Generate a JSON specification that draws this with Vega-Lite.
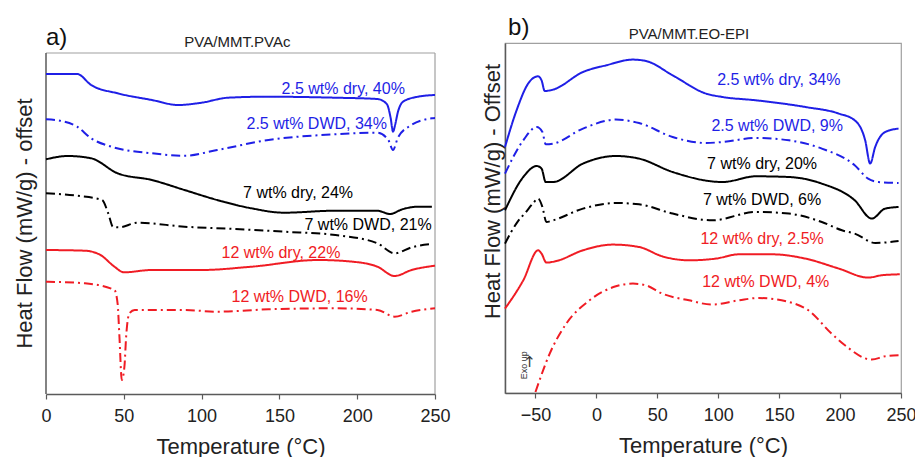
{
  "$schema": "https://vega.github.io/schema/vega-lite/v6.json",
  "padding": {"left": 13, "top": 15, "right": 0, "bottom": 0},
  "spacing": 29,
  "config": {
    "font": "Liberation Sans",
    "view": {"stroke": "#a0a0a0", "strokeWidth": 1.2},
    "axis": {"grid": false, "labelFlush": false, "domainColor": "#5a5a5a", "domainWidth": 1.5, "tickColor": "#5a5a5a", "tickWidth": 1.2, "labelFont": "Liberation Sans", "labelFontSize": 18, "labelColor": "#222222", "titleFont": "Liberation Sans", "titleFontSize": 22, "titleFontWeight": "normal", "titleColor": "#222222"}
  },
  "datasets": {
    "a": [
      {"g":"2.5","k":"dry","T":0,"hf":320},{"g":"2.5","k":"dry","T":20,"hf":320},{"g":"2.5","k":"dry","T":29,"hf":309},{"g":"2.5","k":"dry","T":46,"hf":300.7},{"g":"2.5","k":"dry","T":68,"hf":294},{"g":"2.5","k":"dry","T":85,"hf":289},{"g":"2.5","k":"dry","T":100,"hf":291.3},{"g":"2.5","k":"dry","T":117,"hf":296.3},{"g":"2.5","k":"dry","T":142,"hf":297.3},{"g":"2.5","k":"dry","T":186,"hf":296.3},{"g":"2.5","k":"dry","T":213,"hf":295},{"g":"2.5","k":"dry","T":219,"hf":290},{"g":"2.5","k":"dry","T":221.5,"hf":276},{"g":"2.5","k":"dry","T":223,"hf":262.3},{"g":"2.5","k":"dry","T":224.5,"hf":270},{"g":"2.5","k":"dry","T":226,"hf":281},{"g":"2.5","k":"dry","T":229.5,"hf":292.3},{"g":"2.5","k":"dry","T":239,"hf":297.3},{"g":"2.5","k":"dry","T":250,"hf":299},
      {"g":"2.5","k":"DWD","T":0,"hf":274.7},{"g":"2.5","k":"DWD","T":10,"hf":273},{"g":"2.5","k":"DWD","T":20,"hf":267.3},{"g":"2.5","k":"DWD","T":29,"hf":255.7},{"g":"2.5","k":"DWD","T":42,"hf":247.3},{"g":"2.5","k":"DWD","T":68,"hf":240.7},{"g":"2.5","k":"DWD","T":89,"hf":238.3},{"g":"2.5","k":"DWD","T":110,"hf":244},{"g":"2.5","k":"DWD","T":143,"hf":254},{"g":"2.5","k":"DWD","T":186,"hf":259.7},{"g":"2.5","k":"DWD","T":213,"hf":261.3},{"g":"2.5","k":"DWD","T":220,"hf":254},{"g":"2.5","k":"DWD","T":223,"hf":244},{"g":"2.5","k":"DWD","T":226,"hf":255.7},{"g":"2.5","k":"DWD","T":233,"hf":267.3},{"g":"2.5","k":"DWD","T":248,"hf":275.7},{"g":"2.5","k":"DWD","T":250,"hf":276},
      {"g":"7","k":"dry","T":0,"hf":234.7},{"g":"7","k":"dry","T":14,"hf":238},{"g":"7","k":"dry","T":29,"hf":235.7},{"g":"7","k":"dry","T":46,"hf":220.7},{"g":"7","k":"dry","T":68,"hf":214},{"g":"7","k":"dry","T":89,"hf":204},{"g":"7","k":"dry","T":110,"hf":194},{"g":"7","k":"dry","T":132,"hf":185.7},{"g":"7","k":"dry","T":153,"hf":181.3},{"g":"7","k":"dry","T":186,"hf":183.3},{"g":"7","k":"dry","T":213,"hf":183.3},{"g":"7","k":"dry","T":221,"hf":180},{"g":"7","k":"dry","T":229,"hf":184.7},{"g":"7","k":"dry","T":239,"hf":187.3},{"g":"7","k":"dry","T":248,"hf":187.3},
      {"g":"7","k":"DWD","T":0,"hf":200.7},{"g":"7","k":"DWD","T":20,"hf":198.3},{"g":"7","k":"DWD","T":36,"hf":194},{"g":"7","k":"DWD","T":40,"hf":180.7},{"g":"7","k":"DWD","T":43,"hf":167.3},{"g":"7","k":"DWD","T":47,"hf":166.7},{"g":"7","k":"DWD","T":59,"hf":171.3},{"g":"7","k":"DWD","T":89,"hf":167.3},{"g":"7","k":"DWD","T":121,"hf":165},{"g":"7","k":"DWD","T":153,"hf":162.3},{"g":"7","k":"DWD","T":186,"hf":159},{"g":"7","k":"DWD","T":213,"hf":150.7},{"g":"7","k":"DWD","T":224,"hf":140.7},{"g":"7","k":"DWD","T":235,"hf":146.7},{"g":"7","k":"DWD","T":248,"hf":150},
      {"g":"12","k":"dry","T":0,"hf":144},{"g":"12","k":"dry","T":25,"hf":143.3},{"g":"12","k":"dry","T":35,"hf":139},{"g":"12","k":"dry","T":44,"hf":127.3},{"g":"12","k":"dry","T":50,"hf":121.7},{"g":"12","k":"dry","T":68,"hf":124},{"g":"12","k":"dry","T":100,"hf":124},{"g":"12","k":"dry","T":132,"hf":127.3},{"g":"12","k":"dry","T":175,"hf":134},{"g":"12","k":"dry","T":197,"hf":132.3},{"g":"12","k":"dry","T":213,"hf":127.3},{"g":"12","k":"dry","T":224,"hf":118},{"g":"12","k":"dry","T":235,"hf":124},{"g":"12","k":"dry","T":250,"hf":128.3},
      {"g":"12","k":"DWD","T":0,"hf":112.3},{"g":"12","k":"DWD","T":25,"hf":110.7},{"g":"12","k":"DWD","T":44,"hf":104},{"g":"12","k":"DWD","T":46,"hf":90.7},{"g":"12","k":"DWD","T":47.2,"hf":57.3},{"g":"12","k":"DWD","T":48.7,"hf":14},{"g":"12","k":"DWD","T":50.4,"hf":27.3},{"g":"12","k":"DWD","T":51.5,"hf":57.3},{"g":"12","k":"DWD","T":53.6,"hf":80.7},{"g":"12","k":"DWD","T":57,"hf":84},{"g":"12","k":"DWD","T":89,"hf":84},{"g":"12","k":"DWD","T":110,"hf":82.3},{"g":"12","k":"DWD","T":143,"hf":84.7},{"g":"12","k":"DWD","T":186,"hf":85.7},{"g":"12","k":"DWD","T":213,"hf":84},{"g":"12","k":"DWD","T":224,"hf":77.3},{"g":"12","k":"DWD","T":235,"hf":82.3},{"g":"12","k":"DWD","T":250,"hf":85.7}
    ],
    "b": [
      {"g":"2.5","k":"dry","T":-75,"hf":246},{"g":"2.5","k":"dry","T":-65.5,"hf":282.7},{"g":"2.5","k":"dry","T":-56,"hf":309.4},{"g":"2.5","k":"dry","T":-48,"hf":316.7},{"g":"2.5","k":"dry","T":-45,"hf":312.7},{"g":"2.5","k":"dry","T":-42.4,"hf":302},{"g":"2.5","k":"dry","T":-35.5,"hf":303.4},{"g":"2.5","k":"dry","T":-11,"hf":321},{"g":"2.5","k":"dry","T":8,"hf":327.7},{"g":"2.5","k":"dry","T":30,"hf":333.4},{"g":"2.5","k":"dry","T":40.7,"hf":332},{"g":"2.5","k":"dry","T":62.6,"hf":317.7},{"g":"2.5","k":"dry","T":90,"hf":299.4},{"g":"2.5","k":"dry","T":103.5,"hf":296},{"g":"2.5","k":"dry","T":131,"hf":292.7},{"g":"2.5","k":"dry","T":171.5,"hf":286},{"g":"2.5","k":"dry","T":199,"hf":279.4},{"g":"2.5","k":"dry","T":212,"hf":272.7},{"g":"2.5","k":"dry","T":220.6,"hf":252.7},{"g":"2.5","k":"dry","T":224.7,"hf":229.4},{"g":"2.5","k":"dry","T":228.8,"hf":246},{"g":"2.5","k":"dry","T":237,"hf":261},{"g":"2.5","k":"dry","T":248,"hf":264.4},
      {"g":"2.5","k":"DWD","T":-75,"hf":219.4},{"g":"2.5","k":"DWD","T":-60,"hf":252.7},{"g":"2.5","k":"DWD","T":-49,"hf":266},{"g":"2.5","k":"DWD","T":-44.3,"hf":261},{"g":"2.5","k":"DWD","T":-41.6,"hf":248.7},{"g":"2.5","k":"DWD","T":-35.5,"hf":249.4},{"g":"2.5","k":"DWD","T":-11,"hf":264.4},{"g":"2.5","k":"DWD","T":16,"hf":273.4},{"g":"2.5","k":"DWD","T":35,"hf":270},{"g":"2.5","k":"DWD","T":62.6,"hf":256},{"g":"2.5","k":"DWD","T":90,"hf":250},{"g":"2.5","k":"DWD","T":103.5,"hf":251},{"g":"2.5","k":"DWD","T":131,"hf":255},{"g":"2.5","k":"DWD","T":158,"hf":252.7},{"g":"2.5","k":"DWD","T":185,"hf":244.4},{"g":"2.5","k":"DWD","T":212,"hf":227.7},{"g":"2.5","k":"DWD","T":223,"hf":214.4},{"g":"2.5","k":"DWD","T":231.5,"hf":211},{"g":"2.5","k":"DWD","T":248,"hf":210},
      {"g":"7","k":"dry","T":-75,"hf":182.7},{"g":"7","k":"dry","T":-60,"hf":216},{"g":"7","k":"dry","T":-49,"hf":227},{"g":"7","k":"dry","T":-45,"hf":224.4},{"g":"7","k":"dry","T":-41.6,"hf":211},{"g":"7","k":"dry","T":-35.5,"hf":211},{"g":"7","k":"dry","T":-11,"hf":229.4},{"g":"7","k":"dry","T":16,"hf":237},{"g":"7","k":"dry","T":35,"hf":234.4},{"g":"7","k":"dry","T":62.6,"hf":221},{"g":"7","k":"dry","T":103.5,"hf":211},{"g":"7","k":"dry","T":131,"hf":216.7},{"g":"7","k":"dry","T":158,"hf":216},{"g":"7","k":"dry","T":185,"hf":209.4},{"g":"7","k":"dry","T":212,"hf":192.7},{"g":"7","k":"dry","T":226,"hf":174.4},{"g":"7","k":"dry","T":237,"hf":184.4},{"g":"7","k":"dry","T":248,"hf":186},
      {"g":"7","k":"DWD","T":-75,"hf":149.4},{"g":"7","k":"DWD","T":-65,"hf":170.7},{"g":"7","k":"DWD","T":-58,"hf":180.7},{"g":"7","k":"DWD","T":-52,"hf":189.7},{"g":"7","k":"DWD","T":-47.8,"hf":194.4},{"g":"7","k":"DWD","T":-44.3,"hf":186},{"g":"7","k":"DWD","T":-41,"hf":171},{"g":"7","k":"DWD","T":-35.5,"hf":172.7},{"g":"7","k":"DWD","T":-11,"hf":184.4},{"g":"7","k":"DWD","T":16,"hf":190},{"g":"7","k":"DWD","T":35,"hf":188.7},{"g":"7","k":"DWD","T":62.6,"hf":179.4},{"g":"7","k":"DWD","T":95,"hf":172.7},{"g":"7","k":"DWD","T":131,"hf":181},{"g":"7","k":"DWD","T":158,"hf":179.4},{"g":"7","k":"DWD","T":185,"hf":171},{"g":"7","k":"DWD","T":201.5,"hf":162.7},{"g":"7","k":"DWD","T":212,"hf":159.4},{"g":"7","k":"DWD","T":229,"hf":150},{"g":"7","k":"DWD","T":248,"hf":152},
      {"g":"12","k":"dry","T":-75,"hf":84.4},{"g":"12","k":"dry","T":-60,"hf":112.7},{"g":"12","k":"dry","T":-47.8,"hf":142.7},{"g":"12","k":"dry","T":-45,"hf":139.4},{"g":"12","k":"dry","T":-41,"hf":130.4},{"g":"12","k":"dry","T":-32.8,"hf":132},{"g":"12","k":"dry","T":-11,"hf":142.7},{"g":"12","k":"dry","T":13.5,"hf":148.4},{"g":"12","k":"dry","T":35,"hf":146},{"g":"12","k":"dry","T":54,"hf":136.7},{"g":"12","k":"dry","T":76,"hf":132.7},{"g":"12","k":"dry","T":98,"hf":134.4},{"g":"12","k":"dry","T":117,"hf":138.7},{"g":"12","k":"dry","T":144,"hf":138.7},{"g":"12","k":"dry","T":171.5,"hf":134.4},{"g":"12","k":"dry","T":199,"hf":124.4},{"g":"12","k":"dry","T":223,"hf":115.4},{"g":"12","k":"dry","T":234,"hf":117.7},{"g":"12","k":"dry","T":249,"hf":118.7},
      {"g":"12","k":"DWD","T":-50,"hf":1},{"g":"12","k":"DWD","T":-38.3,"hf":39.4},{"g":"12","k":"DWD","T":-24.7,"hf":69.4},{"g":"12","k":"DWD","T":-5.6,"hf":92.7},{"g":"12","k":"DWD","T":16,"hf":106.7},{"g":"12","k":"DWD","T":30,"hf":109.4},{"g":"12","k":"DWD","T":40.7,"hf":107.7},{"g":"12","k":"DWD","T":54,"hf":99.4},{"g":"12","k":"DWD","T":76,"hf":92.7},{"g":"12","k":"DWD","T":95,"hf":88.4},{"g":"12","k":"DWD","T":117,"hf":92.7},{"g":"12","k":"DWD","T":133,"hf":95},{"g":"12","k":"DWD","T":158,"hf":91},{"g":"12","k":"DWD","T":174,"hf":82.7},{"g":"12","k":"DWD","T":193,"hf":59.4},{"g":"12","k":"DWD","T":204,"hf":47.7},{"g":"12","k":"DWD","T":226,"hf":33.4},{"g":"12","k":"DWD","T":237,"hf":36.7},{"g":"12","k":"DWD","T":248,"hf":37.7}
    ],
    "la": [
      {"g":"2.5","T":191,"hf":304.7,"t":"2.5 wt% dry, 40%"},
      {"g":"2.5","T":174,"hf":270,"t":"2.5 wt% DWD, 34%"},
      {"g":"7","T":162,"hf":201.3,"t":"7 wt% dry, 24%"},
      {"g":"7","T":207,"hf":169,"t":"7 wt% DWD, 21%"},
      {"g":"12","T":151,"hf":141.3,"t":"12 wt% dry, 22%"},
      {"g":"12","T":163,"hf":96.7,"t":"12 wt% DWD, 16%"}
    ],
    "lb": [
      {"g":"2.5","T":149.7,"hf":312.7,"t":"2.5 wt% dry, 34%"},
      {"g":"2.5","T":148.4,"hf":266.7,"t":"2.5 wt% DWD, 9%"},
      {"g":"7","T":136,"hf":228.7,"t":"7 wt% dry, 20%"},
      {"g":"7","T":136,"hf":193.4,"t":"7 wt% DWD, 6%"},
      {"g":"12","T":136,"hf":154.4,"t":"12 wt% dry, 2.5%"},
      {"g":"12","T":139,"hf":111,"t":"12 wt% DWD, 4%"}
    ],
    "ta": [{"T":123,"hf":352.3,"t":"PVA/MMT.PVAc"}],
    "tb": [{"T":76,"hf":359.4,"t":"PVA/MMT.EO-EPI"}],
    "pa": [{"T":0,"hf":356,"t":"a)"}],
    "pb": [{"T":-72.5,"hf":364.7,"t":"b)"}],
    "frameA": [{"T":0,"T2":250,"hf":341,"hf2":341},{"T":250,"T2":250,"hf":0,"hf2":341}],
    "leftA": [{"T":0,"T2":0,"hf":0,"hf2":341}],
    "exo": [{"T":-59.8,"hf":27.7,"t":"Exo up"}],
    "arr": [{"T":-54.9,"hf":31,"t":"↑"}]
  },
  "hconcat": [
    {
      "width": 389,
      "height": 351,
      "view": {"stroke": null},
      "layer": [
        {
          "data": {"name": "frameA"},
          "mark": {"type": "rule", "color": "#a0a0a0", "strokeWidth": 1.2},
          "encoding": {
            "x": {"field": "T", "type": "quantitative"},
            "x2": {"field": "T2"},
            "y": {"field": "hf", "type": "quantitative"},
            "y2": {"field": "hf2"}
          }
        },
        {
          "data": {"name": "leftA"},
          "mark": {"type": "rule", "color": "#5a5a5a", "strokeWidth": 1.5},
          "encoding": {
            "x": {"field": "T", "type": "quantitative"},
            "x2": {"field": "T2"},
            "y": {"field": "hf", "type": "quantitative"},
            "y2": {"field": "hf2"}
          }
        },
        {
          "data": {"name": "a"},
          "mark": {"type": "line", "strokeWidth": 2, "interpolate": "monotone"},
          "encoding": {
            "x": {"field": "T", "type": "quantitative", "scale": {"domain": [0, 250], "nice": false}, "title": "Temperature (°C)", "axis": {"values": [0,25,50,75,100,125,150,175,200,225,250], "labelExpr": "datum.value % 50 === 0 ? datum.label : ''", "tickSize": {"condition": {"test": "datum.value % 50 === 0", "value": 5}, "value": 3}, "labelPadding": 8, "titlePadding": 11}},
            "y": {"field": "hf", "type": "quantitative", "scale": {"domain": [0, 351], "nice": false}, "title": "Heat Flow (mW/g) - offset", "axis": {"labels": false, "ticks": false, "domain": false, "titlePadding": 10, "titleY": 180}},
            "color": {"field": "g", "type": "nominal", "scale": {"domain": ["2.5","7","12"], "range": ["#1f1fe6","#000000","#f01c24"]}, "legend": null},
            "strokeDash": {"field": "k", "type": "nominal", "scale": {"domain": ["dry","DWD"], "range": [[1,0],[9,4,2,4]]}, "legend": null}
          }
        },
        {
          "data": {"name": "la"},
          "mark": {"type": "text", "fontSize": 16, "align": "center", "baseline": "middle"},
          "encoding": {
            "x": {"field": "T", "type": "quantitative"},
            "y": {"field": "hf", "type": "quantitative"},
            "text": {"field": "t"},
            "color": {"field": "g", "type": "nominal", "legend": null}
          }
        },
        {
          "data": {"name": "ta"},
          "mark": {"type": "text", "fontSize": 15, "align": "center", "baseline": "middle", "color": "#222222"},
          "encoding": {
            "x": {"field": "T", "type": "quantitative"},
            "y": {"field": "hf", "type": "quantitative"},
            "text": {"field": "t"}
          }
        },
        {
          "data": {"name": "pa"},
          "mark": {"type": "text", "fontSize": 24, "align": "left", "baseline": "middle", "color": "#111111"},
          "encoding": {
            "x": {"field": "T", "type": "quantitative"},
            "y": {"field": "hf", "type": "quantitative"},
            "text": {"field": "t"}
          }
        }
      ]
    },
    {
      "width": 396,
      "height": 350,
      "layer": [
        {
          "data": {"name": "b"},
          "mark": {"type": "line", "strokeWidth": 2, "interpolate": "monotone"},
          "encoding": {
            "x": {"field": "T", "type": "quantitative", "scale": {"domain": [-75, 250], "nice": false}, "title": "Temperature (°C)", "axis": {"values": [-50,-25,0,25,50,75,100,125,150,175,200,225,250], "labelExpr": "datum.value % 50 === 0 ? datum.label : ''", "tickSize": {"condition": {"test": "datum.value % 50 === 0", "value": 5}, "value": 3}, "labelPadding": 8, "titlePadding": 11}},
            "y": {"field": "hf", "type": "quantitative", "scale": {"domain": [0, 350], "nice": false}, "title": "Heat Flow (mW/g) - Offset", "axis": {"labels": false, "ticks": false, "titlePadding": 1, "titleY": 148}},
            "color": {"field": "g", "type": "nominal", "scale": {"domain": ["2.5","7","12"], "range": ["#1f1fe6","#000000","#f01c24"]}, "legend": null},
            "strokeDash": {"field": "k", "type": "nominal", "scale": {"domain": ["dry","DWD"], "range": [[1,0],[9,4,2,4]]}, "legend": null}
          }
        },
        {
          "data": {"name": "lb"},
          "mark": {"type": "text", "fontSize": 16, "align": "center", "baseline": "middle"},
          "encoding": {
            "x": {"field": "T", "type": "quantitative"},
            "y": {"field": "hf", "type": "quantitative"},
            "text": {"field": "t"},
            "color": {"field": "g", "type": "nominal", "legend": null}
          }
        },
        {
          "data": {"name": "tb"},
          "mark": {"type": "text", "fontSize": 15, "align": "center", "baseline": "middle", "color": "#222222"},
          "encoding": {
            "x": {"field": "T", "type": "quantitative"},
            "y": {"field": "hf", "type": "quantitative"},
            "text": {"field": "t"}
          }
        },
        {
          "data": {"name": "pb"},
          "mark": {"type": "text", "fontSize": 24, "align": "left", "baseline": "middle", "color": "#111111"},
          "encoding": {
            "x": {"field": "T", "type": "quantitative"},
            "y": {"field": "hf", "type": "quantitative"},
            "text": {"field": "t"}
          }
        },
        {
          "data": {"name": "exo"},
          "mark": {"type": "text", "fontSize": 9, "angle": 270, "align": "center", "baseline": "middle", "color": "#333333"},
          "encoding": {
            "x": {"field": "T", "type": "quantitative"},
            "y": {"field": "hf", "type": "quantitative"},
            "text": {"field": "t"}
          }
        },
        {
          "data": {"name": "arr"},
          "mark": {"type": "text", "fontSize": 15, "font": "DejaVu Sans", "align": "center", "baseline": "middle", "color": "#333333"},
          "encoding": {
            "x": {"field": "T", "type": "quantitative"},
            "y": {"field": "hf", "type": "quantitative"},
            "text": {"field": "t"}
          }
        }
      ]
    }
  ]
}
